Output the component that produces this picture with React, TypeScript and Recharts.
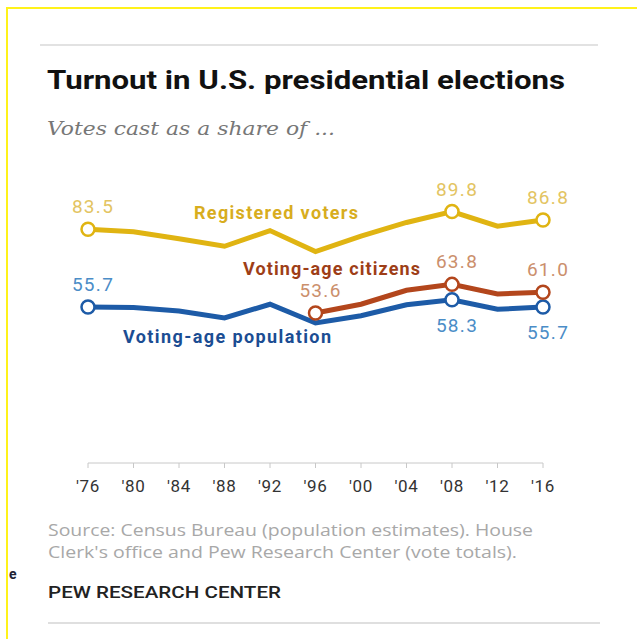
import React from "react";
import { LineChart, Line, XAxis, YAxis, LabelList } from "recharts";

// election years and tick labels
const years = ["1976", "1980", "1984", "1988", "1992", "1996", "2000", "2004", "2008", "2012", "2016"];
const tickLabels = ["'76", "'80", "'84", "'88", "'92", "'96", "'00", "'04", "'08", "'12", "'16"];

// turnout, votes cast as a share of ...
const registered = [83.5, 82.6, 80.1, 77.4, 83.0, 75.5, 81.0, 85.9, 89.8, 84.6, 86.8];
const citizens = [null, null, null, null, null, 53.6, 56.7, 61.7, 63.8, 60.4, 61.0];
const population = [55.7, 55.5, 54.3, 51.8, 56.7, 50.0, 52.6, 56.5, 58.3, 54.9, 55.7];

// which points get an open circle + value label
const regMarked = [0, 8, 10];
const citMarked = [5, 8, 10];
const popMarked = [0, 8, 10];

const data = years.map((y, i) => ({
  year: y,
  tick: tickLabels[i],
  registered: registered[i],
  citizens: citizens[i],
  population: population[i],
}));

const GOLD = "#E0B412";
const BROWN = "#B3461C";
const BLUE = "#1D5BA7";

const makeDot = (marked: number[], color: string) => (props: any) => {
  const { cx, cy, index } = props;
  if (!marked.includes(index) || cx == null || cy == null) return <g key={`d${index}`} />;
  return <circle key={`d${index}`} cx={cx} cy={cy} r={6.5} fill="#fff" stroke={color} strokeWidth={2.5} />;
};

const makeLabel = (marked: number[], color: string, below: number[] = []) => (props: any) => {
  const { x, y, value, index } = props;
  if (!marked.includes(index) || value == null) return null;
  const dy = below.includes(index) ? 32 : -16;
  return (
    <text x={x + 5} y={y + dy} textAnchor="middle" fill={color} fontSize={19} letterSpacing={1.3} fontFamily="Roboto, sans-serif">
      {Number(value).toFixed(1)}
    </text>
  );
};

export default function App() {
  return (
    <div style={{ position: "absolute", left: 0, top: 0, width: 637, height: 639, background: "#fff", overflow: "hidden" }}>
      <div style={{ position: "absolute", left: 0, top: 0 }}>
        <LineChart width={637} height={639} data={data} margin={{ top: 183, right: 94, bottom: 146, left: 88 }}>
          <XAxis
            dataKey="tick"
            height={30}
            stroke="#c8c8c8"
            tickSize={5}
            tickMargin={12}
            interval={0}
            tick={{ fill: "#333", fontSize: 17, letterSpacing: 0.6, fontFamily: "Roboto, sans-serif" }}
          />
          <YAxis hide domain={[0, 100]} />
          <Line
            dataKey="registered"
            stroke={GOLD}
            strokeWidth={5}
            dot={makeDot(regMarked, GOLD)}
            activeDot={false}
            isAnimationActive={false}
          >
            <LabelList dataKey="registered" content={makeLabel(regMarked, "#E3C462")} />
          </Line>
          <Line
            dataKey="population"
            stroke={BLUE}
            strokeWidth={5}
            dot={makeDot(popMarked, BLUE)}
            activeDot={false}
            isAnimationActive={false}
          >
            <LabelList dataKey="population" content={makeLabel(popMarked, "#4B8DC7", [8, 10])} />
          </Line>
          <Line
            dataKey="citizens"
            stroke={BROWN}
            strokeWidth={5}
            dot={makeDot(citMarked, BROWN)}
            activeDot={false}
            isAnimationActive={false}
            connectNulls={false}
          >
            <LabelList dataKey="citizens" content={makeLabel(citMarked, "#CB8F6C")} />
          </Line>
        </LineChart>
      </div>

      <svg width={637} height={639} style={{ position: "absolute", left: 0, top: 0, pointerEvents: "none" }}>
        {/* frame */}
        <line x1={6} y1={8} x2={637} y2={8} stroke="#FFF21A" strokeWidth={2} />
        <line x1={7} y1={8} x2={7} y2={639} stroke="#FFF21A" strokeWidth={2} />
        <line x1={40} y1={45} x2={598} y2={45} stroke="#e2e2e2" strokeWidth={2} />
        <line x1={48} y1={623} x2={600} y2={623} stroke="#d4d4d4" strokeWidth={1.5} />

        <text x={9} y={579} fontSize={14} fontWeight={700} fill="#223" fontFamily="Roboto, sans-serif">e</text>

        <text x={47} y={89} fontSize={26} fontWeight={700} fill="#111" fontFamily="Roboto, sans-serif" textLength={518} lengthAdjust="spacingAndGlyphs">
          Turnout in U.S. presidential elections
        </text>
        <text x={47} y={135} fontSize={19} fontStyle="italic" fill="#777" fontFamily="'DejaVu Serif', serif" textLength={288} lengthAdjust="spacingAndGlyphs">
          Votes cast as a share of ...
        </text>

        {/* series names */}
        <text x={194} y={219} fontSize={18} fontWeight={700} fill="#D8AD1E" fontFamily="Roboto, sans-serif" textLength={164} lengthAdjust="spacing">
          Registered voters
        </text>
        <text x={243} y={275} fontSize={18} fontWeight={700} fill="#9E3E17" fontFamily="Roboto, sans-serif" textLength={177} lengthAdjust="spacing">
          Voting-age citizens
        </text>
        <text x={123} y={343} fontSize={18} fontWeight={700} fill="#1B4D93" fontFamily="Roboto, sans-serif" textLength={208} lengthAdjust="spacing">
          Voting-age population
        </text>

        <text x={48} y={536} fontSize={16} fill="#a8a8a8" fontFamily="'Open Sans', sans-serif" textLength={485} lengthAdjust="spacingAndGlyphs">
          Source: Census Bureau (population estimates). House
        </text>
        <text x={48} y={558} fontSize={16} fill="#a8a8a8" fontFamily="'Open Sans', sans-serif" textLength={469} lengthAdjust="spacingAndGlyphs">
          Clerk's office and Pew Research Center (vote totals).
        </text>
        <text x={48} y={598} fontSize={17} fontWeight={500} fill="#222" fontFamily="Roboto, sans-serif" textLength={233} lengthAdjust="spacingAndGlyphs">
          PEW RESEARCH CENTER
        </text>
      </svg>
    </div>
  );
}
